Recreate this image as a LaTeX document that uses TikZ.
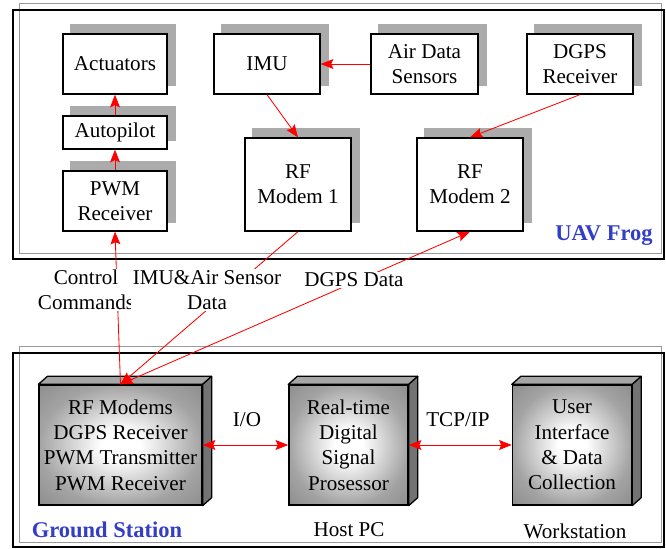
\documentclass[tikz,border=0pt]{standalone}
\usepackage{fontspec}
\setmainfont{Liberation Serif}
\usetikzlibrary{arrows.meta,backgrounds}
\definecolor{titleblue}{RGB}{52,62,196}
\pgfdeclareradialshading{boxglow}{\pgfpoint{0bp}{0bp}}{color(0bp)=(white); color(6bp)=(white); color(25bp)=(black!36); color(40bp)=(black!48); color(50bp)=(black!50)}

\begin{document}
\begin{tikzpicture}[x=0.025cm, y=-0.025cm,
        every node/.style={font=\fontsize{15}{18}\selectfont, align=center},
        uavbox/.style={draw, line width=0.9pt, fill=white, inner sep=0pt,
            minimum width=2.63cm, minimum height=1.5cm},
        gndbox/.style={draw, line width=0.9pt, shading=boxglow, inner sep=0pt,
            minimum width=2.98cm, minimum height=3cm},
        link/.style={red, line width=0.6pt},
        tag/.style={fill=white, inner sep=1pt},
        title/.style={text=titleblue, font=\fontsize{16}{19}\selectfont\bfseries},
        >={Stealth[length=9pt,width=7pt,inset=1.5pt]}]

        \useasboundingbox (0,0) rectangle (666,548);

        % Frames
        \draw[black!40] (19,3) rectangle (661,253);
        \draw[line width=0.9pt] (13,10) rectangle (664,259);
        \draw[black!40] (19,346) rectangle (661,542);
        \draw[line width=0.9pt] (13,353) rectangle (664,547);

        % UAV boxes
        \node[uavbox, minimum width=2.6cm] (act) at (115,64) {Actuators};
        \node[uavbox, minimum width=2.6cm, minimum height=0.825cm] (pilot) at (115,132.5) {Autopilot};
        \node[uavbox, minimum width=2.6cm] (pwm) at (115,201) {PWM\\Receiver};
        \node[uavbox, minimum width=2.65cm] (imu) at (267,64) {IMU};
        \node[uavbox, minimum width=2.65cm, minimum height=2.325cm] (rfa) at (298,184.5) {RF\\Modem 1};
        \node[uavbox, minimum width=2.675cm] (ads) at (424.5,64) {Air Data\\Sensors};
        \node[uavbox, minimum width=2.65cm] (dgps) at (580,64) {DGPS\\Receiver};
        \node[uavbox, minimum width=2.65cm, minimum height=2.325cm] (rfb) at (470,184.5) {RF\\Modem 2};

        % Shadows
        \begin{pgfonlayer}{background}
            \foreach \n in {act,pilot,pwm,imu,rfa,ads,dgps,rfb} {
                \fill[black!33] ([shift={(8,-9)}]\n.south west) rectangle ([shift={(8,-9)}]\n.north east);
            }
        \end{pgfonlayer}

        % Ground boxes
        \node[gndbox, minimum width=4.075cm] (gs) at (120.5,445) {RF Modems\\DGPS Receiver\\PWM Transmitter\\PWM Receiver};
        \node[gndbox] (host) at (348.5,445) {Real-time\\Digital\\Signal\\Prosessor};
        \node[gndbox] (ws) at (572,445) {User\\Interface\\\& Data\\Collection};

        % Top and side faces
        \foreach \n in {gs,host,ws} {
            \filldraw[fill=black!35, line width=0.9pt, line join=round]
                (\n.north west) -- ([shift={(9,-8)}]\n.north west)
                -- ([shift={(9,-8)}]\n.north east) -- (\n.north east) -- cycle;
            \filldraw[fill=black!55, line width=0.9pt, line join=round]
                (\n.north east) -- ([shift={(9,-8)}]\n.north east)
                -- ([shift={(9,-8)}]\n.south east) -- (\n.south east) -- cycle;
        }

        % Links on board
        \draw[link,->] (ads) -- (imu);
        \draw[link,->] (imu.south) -- (rfa.north);
        \draw[link,->] (dgps.south) -- (rfb.north);
        \draw[link,->] (pilot) -- (act);
        \draw[link,->] (pwm) -- (pilot);

        % Radio links
        \draw[link,->] (gs.north) -- (pwm.south);
        \draw[link,->] (rfa.south) -- (gs.north);
        \draw[link,<->] (gs.north) -- (rfb.south);
        \node[tag] (cmd) at (86,290) {Control\\Commands};
        \node[tag] (imudata) at (207,290) {IMU\&Air Sensor\\Data};
        \node[tag] (dgpsdata) at (354,280) {DGPS Data};

        % Wired links
        \draw[link,<->] (gs.east) -- (host.west);
        \draw[link,<->] (host.east) -- (ws.west);
        \node (io) at (247,420) {I/O};
        \node (tcp) at (458,420) {TCP/IP};

        % Titles
        \node[title] (uavtitle) at (604,236) {UAV Frog};
        \node[title] (gstitle) at (107,530) {Ground Station};
        \node (hostpc) at (349,530) {Host PC};
        \node (wstation) at (575,531) {Workstation};
    \end{tikzpicture}
\end{document}
